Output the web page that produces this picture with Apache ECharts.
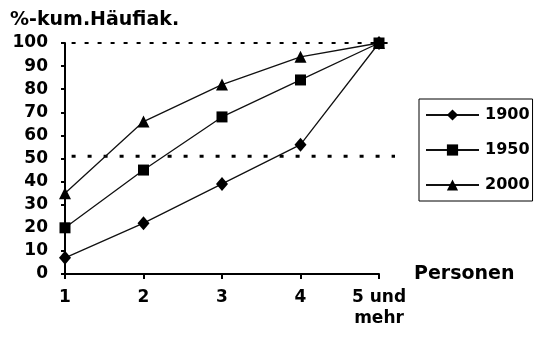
<!DOCTYPE html>
<html>
<head>
<meta charset="utf-8">
<script src="https://cdn.jsdelivr.net/npm/echarts@6/dist/echarts.min.js"></script>
<style>
  html, body { margin: 0; padding: 0; background: #fff; }
  #chart { width: 535px; height: 342px; }
</style>
</head>
<body>
<div id="chart"></div>
<script>
// Haushaltsgrößen: kumulierte Häufigkeit in Prozent
const categories = ['1', '2', '3', '4', '5 und\nmehr'];
const yTicks = [0, 10, 20, 30, 40, 50, 60, 70, 80, 90, 100];
const years = ['1900', '1950', '2000'];
const values1900 = [7, 22, 39, 56, 100];
const values1950 = [20, 45, 68, 84, 100];
const values2000 = [35, 66, 82, 94, 100];
// Hilfslinien (Referenzwerte)
const refTop = 100;
const refMid = 51;

const FONT = 'DejaVu Sans';
const chart = echarts.init(document.getElementById('chart'));

const mkSeries = (name, data, symbol, size, z) => ({
  name, type: 'line', data, xAxisIndex: 0, yAxisIndex: 0,
  symbol, symbolSize: size, z,
  lineStyle: { color: '#111', width: 1.3 },
  itemStyle: { color: '#000', borderWidth: 0 },
  emphasis: { disabled: true },
  animation: false
});

const refSeries = (val, width, dash) => ({
  type: 'line', xAxisIndex: 1, yAxisIndex: 1,
  data: [[0.02, val], [1, val]],
  symbol: 'none', silent: true, z: 1,
  lineStyle: { color: '#000', width, type: dash },
  animation: false
});

chart.setOption({
  backgroundColor: '#fff',
  animation: false,
  title: {
    text: '%-kum.Häufiak.',
    left: 5, top: 6,
    textStyle: { fontFamily: FONT, fontWeight: 'bold', fontSize: 19, color: '#000' }
  },
  legend: {
    orient: 'vertical',
    left: 419, top: 99,
    padding: [8, 3, 8, 6],
    itemWidth: 53, itemHeight: 14, itemGap: 19,
    borderColor: '#000', borderWidth: 1, borderRadius: 0,
    data: years,
    textStyle: { fontFamily: FONT, fontWeight: 'bold', fontSize: 16, color: '#000', padding: [0, 0, 0, 1] }
  },
  grid: [
    { left: 65, right: 156, top: 43, bottom: 68 },
    { left: 65, right: 140, top: 43, bottom: 68 }
  ],
  xAxis: [
    {
      type: 'category', gridIndex: 0, data: categories, boundaryGap: false,
      name: 'Personen', nameLocation: 'end', nameGap: 35,
      nameTextStyle: { fontFamily: FONT, fontWeight: 'bold', fontSize: 19, color: '#000', verticalAlign: 'middle' },
      axisLine: { lineStyle: { color: '#000', width: 2 } },
      axisTick: { alignWithLabel: true, length: 5, lineStyle: { color: '#000', width: 2 } },
      axisLabel: { fontFamily: FONT, fontWeight: 'bold', fontSize: 17, color: '#000', margin: 13, lineHeight: 21, interval: 0 },
      splitLine: { show: false }
    },
    { type: 'value', gridIndex: 1, min: 0, max: 1, show: false }
  ],
  yAxis: [
    {
      type: 'value', gridIndex: 0, min: yTicks[0], max: yTicks[yTicks.length - 1], interval: 10,
      axisLine: { show: true, lineStyle: { color: '#000', width: 2 } },
      axisTick: { show: true, length: 4, lineStyle: { color: '#000', width: 2 } },
      axisLabel: { fontFamily: FONT, fontWeight: 'bold', fontSize: 17, color: '#000', margin: 17 },
      splitLine: { show: false }
    },
    { type: 'value', gridIndex: 1, min: yTicks[0], max: yTicks[yTicks.length - 1], show: false }
  ],
  series: [
    refSeries(refTop, 2, [4, 9]),
    refSeries(refMid, 3, [4, 12]),
    mkSeries(years[0], values1900, 'diamond', [12, 14], 4),
    mkSeries(years[2], values2000, 'triangle', [12, 12], 5),
    mkSeries(years[1], values1950, 'rect', 11, 6)
  ]
});
</script>
</body>
</html>
